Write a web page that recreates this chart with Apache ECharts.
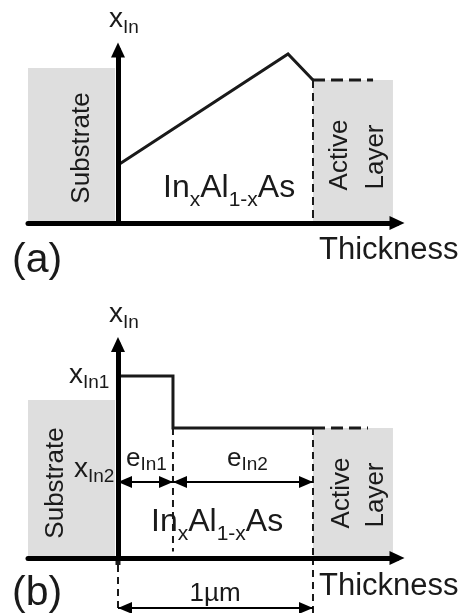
<!DOCTYPE html>
<html><head><meta charset="utf-8">
<script src="https://cdn.jsdelivr.net/npm/echarts@6/dist/echarts.min.js"></script>
<style>html,body{margin:0;padding:0;background:#fff}#c{width:468px;height:613px}</style>
</head><body><div id="c"></div>
<script>
// ---------- data (thickness in µm, composition x_In in relative units) ----------
// Panel (a): graded InAlAs buffer
const thicknessA = [0, 0.872, 1.0];
const xInA = [0.335, 0.977, 0.827];
const activeExtA = [1.0, 1.308];          // dashed continuation into active layer
const substrateX = [-0.4615, -0.015];     // substrate region (thickness)
const substrateTopA = 0.896;
const activeX = [1.0, 1.41];              // active layer region (thickness)
// Panel (b): two-step buffer
const thicknessB = [0, 0.282, 0.282, 1.0];
const xInB = [0.852, 0.852, 0.609, 0.609];
const activeExtB = [1.0, 1.282];
const substrateTopB = 0.74;
const eIn1 = [0, 0.282];
const eIn2 = [0.282, 1.0];
const eArrowLevel = 0.356;
const oneMicron = [0, 1.0];
const rulerLevel = -0.234;
const rulerBottom = -0.258;
const step1Bottom = 0.03;

const chart = echarts.init(document.getElementById('c'), null, {renderer: 'canvas'});
const FONT = 'Liberation Sans, Arial, Helvetica, sans-serif';
const INK = '#1a1a1a';
const GRAY = '#dedede';

function zip(xs, ys) { return xs.map((x, i) => [x, ys[i]]); }

function axisX(grid, min, max, show) {
  return {type: 'value', gridIndex: grid, min: min, max: max, z: 10,
    axisLine: {show: show, onZero: true, symbol: ['none', 'triangle'], symbolSize: [14, 15],
      lineStyle: {color: '#000', width: 5}},
    axisTick: {show: false}, axisLabel: {show: false}, splitLine: {show: false}};
}
function axisY(grid, min, max, show) {
  return {type: 'value', gridIndex: grid, min: min, max: max, z: 10,
    axisLine: {show: show, onZero: true, symbol: ['none', 'triangle'], symbolSize: [14, 15],
      lineStyle: {color: '#000', width: 5}},
    axisTick: {show: false}, axisLabel: {show: false}, splitLine: {show: false}};
}
function lineS(grid, data, width, dash, extra) {
  return Object.assign({type: 'line', xAxisIndex: grid, yAxisIndex: grid, data: data,
    showSymbol: false, symbol: 'none', silent: true, clip: false, animation: false,
    lineStyle: {color: INK, width: width, type: dash || 'solid', join: 'miter', cap: 'butt'}}, extra || {});
}
function boxes(topSub, topAct) {
  return {silent: true, itemStyle: {color: GRAY}, data: [
    [{coord: [substrateX[0], 0]}, {coord: [substrateX[1], topSub]}],
    [{coord: [activeX[0], 0]}, {coord: [activeX[1], topAct]}]]};
}
function arrows(pairs, level) {
  return {silent: true, symbol: ['triangle', 'triangle'], symbolSize: [12, 14],
    symbolOffset: [[0, 7], [0, 7]],
    label: {show: false}, lineStyle: {color: '#000', width: 2, type: 'solid'},
    emphasis: {disabled: true},
    data: pairs.map(p => [{coord: [p[0], level]}, {coord: [p[1], level]}])};
}

function sub(txt, x, y, M, S, d) {
  const L = 0.81 * M + 0.19 * S + d;
  return {type: 'text', x: x, y: y, z: 100, silent: true, style: {
    text: txt, fill: INK, align: 'left', verticalAlign: 'top',
    rich: {m: {fontSize: M, fontFamily: FONT, fill: INK, verticalAlign: 'top'},
           s: {fontSize: S, fontFamily: FONT, fill: INK, verticalAlign: 'bottom', lineHeight: L}}}};
}
function plain(txt, x, y, fs, align, rot) {
  return {type: 'text', x: x, y: y, z: 100, rotation: rot || 0, silent: true, style: {
    text: txt, fill: INK, fontSize: fs, fontFamily: FONT, align: align || 'left', verticalAlign: 'middle'}};
}

const option = {
  backgroundColor: '#fff',
  animation: false,
  grid: [
    {left: 28, right: 71, top: 50, bottom: 390},
    {left: 28, right: 71, top: 344.5, bottom: 55},
    {left: 28, right: 71, top: 558, bottom: 0}
  ],
  xAxis: [axisX(0, -0.4615, 1.4308, true), axisX(1, -0.4615, 1.4308, true), axisX(2, -0.4615, 1.4308, false)],
  yAxis: [axisY(0, 0, 1, true), axisY(1, 0, 1, true), axisY(2, rulerBottom, 0, false)],
  series: [
    // panel (a)
    lineS(0, zip(thicknessA, xInA), 3, 'solid', {markArea: boxes(substrateTopA, xInA[2])}),
    lineS(0, activeExtA.map(x => [x, xInA[2]]), 3, [12, 6]),
    lineS(0, [[activeX[0], xInA[2]], [activeX[0], 0]], 2, [8, 5]),
    // panel (b)
    lineS(1, zip(thicknessB, xInB), 3, 'solid', {markArea: boxes(substrateTopB, xInB[3]),
      markLine: arrows([eIn1, eIn2], eArrowLevel)}),
    lineS(1, activeExtB.map(x => [x, xInB[3]]), 3, [12, 6]),
    lineS(1, [[thicknessB[1], xInB[2]], [thicknessB[1], step1Bottom]], 2, [7, 5]),
    lineS(1, [[activeX[0], xInB[3]], [activeX[0], 0]], 2, [7, 5]),
    // ruler under panel (b)
    lineS(2, [[0, 0], [0, -0.033]], 5, 'solid'),
    lineS(2, [[0, -0.033], [0, rulerBottom]], 2, [7, 5]),
    lineS(2, [[oneMicron[1], 0], [oneMicron[1], rulerBottom]], 2, [7, 5],
      {markLine: arrows([oneMicron], rulerLevel)})
  ],
  graphic: [
    // panel (a)
    sub('{m|x}{s|In}', 109, 5, 28, 19, 6),
    plain('Substrate', 82, 148, 26, 'center', Math.PI / 2),
    sub('{m|In}{s|x}{m|Al}{s|1-x}{m|As}', 163, 172, 32, 21, 9),
    plain('Active', 340, 155, 26, 'center', Math.PI / 2),
    plain('Layer', 376, 157, 26, 'center', Math.PI / 2),
    plain('Thickness', 319, 250, 31, 'left'),
    plain('(a)', 12, 261, 41, 'left'),
    // panel (b)
    sub('{m|x}{s|In}', 109, 300, 28, 19, 6),
    sub('{m|x}{s|In1}', 69, 361, 28, 19, 5),
    sub('{m|x}{s|In2}', 74, 455, 28, 19, 5),
    sub('{m|e}{s|In1}', 126, 446, 26, 19, 4),
    sub('{m|e}{s|In2}', 227, 446, 26, 19, 4),
    sub('{m|In}{s|x}{m|Al}{s|1-x}{m|As}', 151, 506, 32, 21, 9),
    plain('Substrate', 56, 483, 26, 'center', Math.PI / 2),
    plain('Active', 342, 493, 26, 'center', Math.PI / 2),
    plain('Layer', 376, 495, 26, 'center', Math.PI / 2),
    plain('Thickness', 319, 586, 31, 'left'),
    plain('(b)', 12, 594, 41, 'left'),
    plain('1µm', 215, 594, 26, 'center')
  ]
};
chart.setOption(option);
</script>
</body></html>
